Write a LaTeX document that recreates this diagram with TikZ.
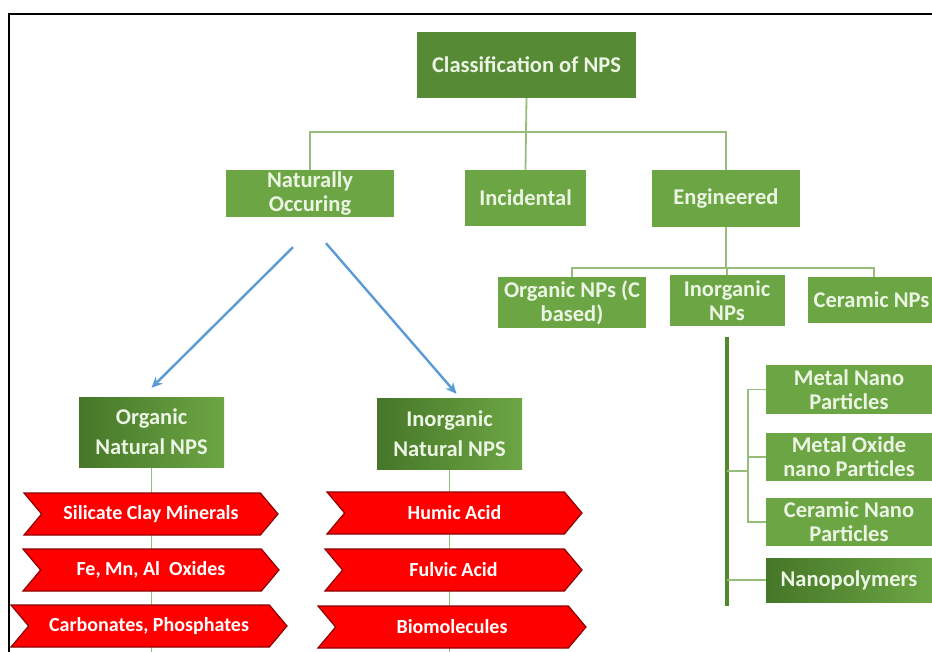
\documentclass[tikz,border=0pt]{standalone}
\usepackage{fontspec}
\setmainfont{Carlito}
\usetikzlibrary{shapes.symbols,backgrounds,calc,arrows.meta}
\definecolor{gmain}{RGB}{86,138,52}
\definecolor{gbox}{RGB}{108,166,68}
\definecolor{gdark}{RGB}{70,118,40}
\definecolor{gline}{RGB}{150,190,122}
\definecolor{gthick}{RGB}{80,136,42}
\definecolor{gtext}{RGB}{236,245,228}
\definecolor{barrow}{RGB}{91,155,213}
\definecolor{chevred}{RGB}{255,0,0}
\definecolor{chevdark}{RGB}{140,0,0}
\tikzset{
  gbx/.style={fill=gbox, text=gtext, font=\fontsize{22.5}{24}\selectfont\bfseries,
    align=center, inner sep=0pt},
  gwide/.style={font=\fontsize{22.5}{30}\selectfont\bfseries},
  gshade/.style={left color=gdark, right color=gbox},
  chev/.style={shape=signal, signal to=east, signal from=west, signal pointer angle=100,
    fill=chevred, draw=chevdark, line width=1.2pt, text=white,
    font=\fontsize{20}{22}\selectfont\bfseries, inner sep=0pt, minimum height=42pt},
  conn/.style={draw=gline, line width=1.8pt},
  thickln/.style={draw=gthick, line width=4.5pt},
  barr/.style={draw=barrow, line width=2.4pt, -{Stealth[length=11pt,width=10pt]}},
}
\begin{document}
\begin{tikzpicture}[x=1pt,y=-1pt]
\useasboundingbox (0,0) rectangle (932,651);
\clip (0,0) rectangle (932,651);
\draw[line width=1.8pt, black] (9,660) -- (9,14) -- (940,14);

% top level
\node[gbx, fill=gmain, minimum width=219pt, minimum height=66pt] (cls) at (526.5,65) {Classification of NPS};
\node[gbx, minimum width=168pt, minimum height=47pt] (nat) at (310,193.5) {Naturally\\Occuring};
\node[gbx, minimum width=121pt, minimum height=56pt] (inc) at (525.5,198) {Incidental};
\node[gbx, minimum width=148pt, minimum height=57pt] (eng) at (726,198.5) {Engineered};

% engineered children
\node[gbx, minimum width=148pt, minimum height=51pt] (orgnp) at (572,302.5) {Organic NPs (C\\based)};
\node[gbx, minimum width=115pt, minimum height=51pt] (inorgnp) at (727,300.5) {Inorganic\\NPs};
\node[gbx, minimum width=132pt, minimum height=46pt] (cer) at (874,300) {\hspace*{-5pt}Ceramic NPs};

\coordinate (thtop) at (727,337);
\coordinate (thbot) at (727,606);

\node[gbx, minimum width=166pt, minimum height=49pt] (metal) at (849,389.5) {Metal Nano\\Particles};
\node[gbx, minimum width=166pt, minimum height=48pt] (moxide) at (849,457) {Metal Oxide\\nano Particles};
\node[gbx, minimum width=166pt, minimum height=48pt] (cnano) at (849,522) {Ceramic Nano\\Particles};
\node[gbx, gshade, minimum width=166pt, minimum height=44pt] (npoly) at (849,580) {Nanopolymers};

% natural children
\node[gbx, gwide, gshade, minimum width=145pt, minimum height=70pt] (onat) at (151.5,432) {Organic\\Natural NPS};
\node[gbx, gwide, gshade, minimum width=145pt, minimum height=71pt] (inat) at (449.5,433.5) {Inorganic\\Natural NPS};

\coordinate (obot) at (151.5,660);
\coordinate (ibot) at (449.5,660);

% chevrons
\node[chev, minimum width=254pt] (c1) at (151,514) {Silicate Clay Minerals};
\node[chev, minimum width=256pt] (c2) at (151,570) {Fe, Mn, Al~ Oxides};
\node[chev, minimum width=276pt] (c3) at (149,626) {Carbonates, Phosphates};
\node[chev, minimum width=255pt] (c4) at (454.5,513) {Humic Acid};
\node[chev, minimum width=257pt] (c5) at (453.5,570) {Fulvic Acid};
\node[chev, minimum width=268pt] (c6) at (452,627) {Biomolecules};

\begin{scope}[on background layer]
  % top tree
  \draw[conn] (cls.south) -- (526,132) -| (nat.north);
  \draw[conn] (526,132) -- (inc.north);
  \draw[conn] (526,132) -| (eng.north);
  % engineered tree
  \draw[conn] (eng.south) -- (eng.south |- 0,268);
  \draw[conn] (orgnp.north) |- (cer.north |- 0,268) -- (cer.north |- orgnp.north);
  \draw[conn] (inorgnp.north |- 0,268) -- (inorgnp.north);
  % inorganic NPs trunk
  \draw[thickln] (thtop) -- (thbot);
  \draw[conn, line width=1.3pt] (727,471) -- (748,471);
  \draw[conn, line width=1.3pt] (metal.west) -| (748,471) |- (cnano.west);
  \draw[conn, line width=1.3pt] (748,457) -- (moxide.west);
  \draw[conn, line width=1.3pt] (thbot |- npoly.west) -- (npoly.west);
  % natural lines behind chevrons
  \draw[conn] (onat.south) -- (obot);
  \draw[conn] (inat.south) -- (ibot);
\end{scope}

% blue arrows
\draw[barr] ($(nat.south)+(-17,30)$) -- ($(onat.north)+(0,-9)$);
\draw[barr] ($(nat.south)+(16,26)$) -- ($(inat.north)+(7,-4)$);
\end{tikzpicture}
\end{document}
